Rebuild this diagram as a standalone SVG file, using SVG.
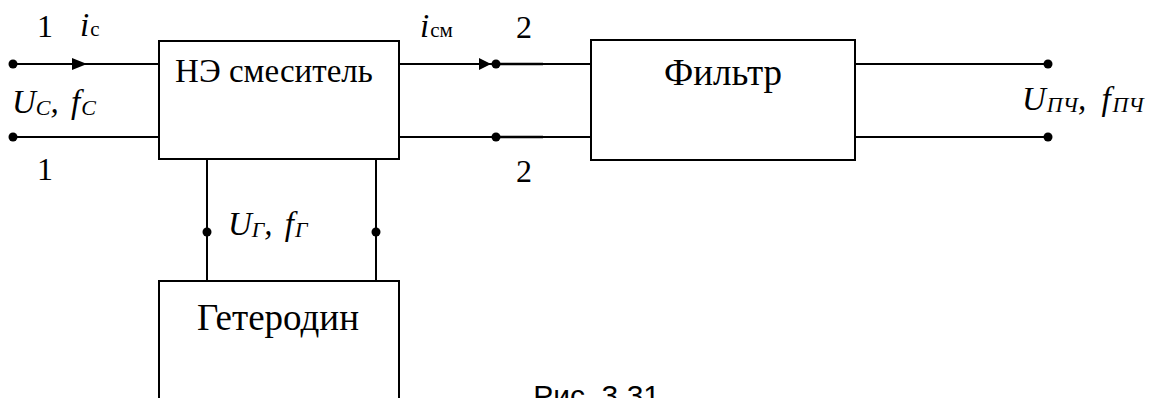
<svg xmlns="http://www.w3.org/2000/svg" width="1157" height="398" viewBox="0 0 1157 398">
<style>
.box{fill:#fff;stroke:#000;stroke-width:2}
.w{stroke:#000;stroke-width:2;fill:none}
.dot{fill:#000}
.ar{fill:#000}
text{font-family:"Liberation Serif","DejaVu Serif",serif;fill:#000}
.num{font-size:32px}
.lbl{font-size:33px}
.it{font-style:italic;font-size:33px}
.sub{font-size:21px}
.isub{font-size:22px}
.cap{font-family:"Liberation Sans",Arial,sans-serif;font-size:30px}
</style>
<rect width="1157" height="398" fill="#fff"/>
<g id="connectors">
<line class="w" x1="13" y1="64" x2="159" y2="64"/>
<line class="w" x1="13" y1="137" x2="159" y2="137"/>
<polygon class="ar" points="72,58 87,64 72,70"/>
<circle class="dot" cx="13" cy="64" r="4.5"/>
<circle class="dot" cx="13" cy="137" r="4.5"/>
<line class="w" x1="399" y1="64" x2="591" y2="64"/>
<line class="w" x1="399" y1="137" x2="591" y2="137"/>
<line x1="496" y1="64" x2="543" y2="64" stroke="#000" stroke-width="2.6"/>
<line x1="496" y1="137" x2="543" y2="137" stroke="#000" stroke-width="2.6"/>
<polygon class="ar" points="479,58 491,64 479,70"/>
<circle class="dot" cx="496" cy="64" r="4.5"/>
<circle class="dot" cx="496" cy="137" r="4.5"/>
<line class="w" x1="855" y1="64" x2="1048" y2="64"/>
<line class="w" x1="855" y1="137" x2="1048" y2="137"/>
<circle class="dot" cx="1048" cy="64" r="4.5"/>
<circle class="dot" cx="1048" cy="137" r="4.5"/>
<line class="w" x1="207" y1="159" x2="207" y2="281"/>
<line class="w" x1="376" y1="159" x2="376" y2="281"/>
<circle class="dot" cx="207" cy="232" r="4.5"/>
<circle class="dot" cx="376" cy="232" r="4.5"/>
</g>
<g id="mixer">
<rect class="box" x="159" y="41" width="240" height="118"/>
<text class="lbl" x="274" y="82" text-anchor="middle">НЭ смеситель</text>
</g>
<g id="filter">
<rect class="box" x="591" y="40" width="264" height="120"/>
<text x="723" y="85" text-anchor="middle" font-size="37">Фильтр</text>
</g>
<g id="heterodyne">
<rect class="box" x="159" y="281" width="240" height="140"/>
<text x="278" y="330" text-anchor="middle" font-size="37">Гетеродин</text>
</g>
<g id="labels">
<text class="num" x="37" y="37">1</text>
<text class="num" x="37" y="180">1</text>
<text x="80" y="36"><tspan class="it">i</tspan><tspan class="sub" dx="1">с</tspan></text>
<text class="it" x="12" y="113">U<tspan class="isub" dy="2">C</tspan><tspan dy="-2">, </tspan><tspan dx="4">f</tspan><tspan class="isub" dy="2" dx="1">C</tspan></text>
<text x="420" y="37"><tspan class="it">i</tspan><tspan class="sub" dx="1">см</tspan></text>
<text class="num" x="516" y="38">2</text>
<text class="num" x="516" y="182">2</text>
<text class="it" x="228" y="235">U<tspan class="isub" dy="2">Г</tspan><tspan dy="-2">, </tspan><tspan dx="4">f</tspan><tspan class="isub" dy="2" dx="1">Г</tspan></text>
<text class="it" x="1022" y="110">U<tspan class="isub" dy="2" dx="1">ПЧ</tspan><tspan dy="-2">, </tspan><tspan dx="7">f</tspan><tspan class="isub" dy="2" dx="2">ПЧ</tspan></text>
<text class="cap" x="660" y="406" text-anchor="end">Рис. 3.31</text>
</g>
</svg>
